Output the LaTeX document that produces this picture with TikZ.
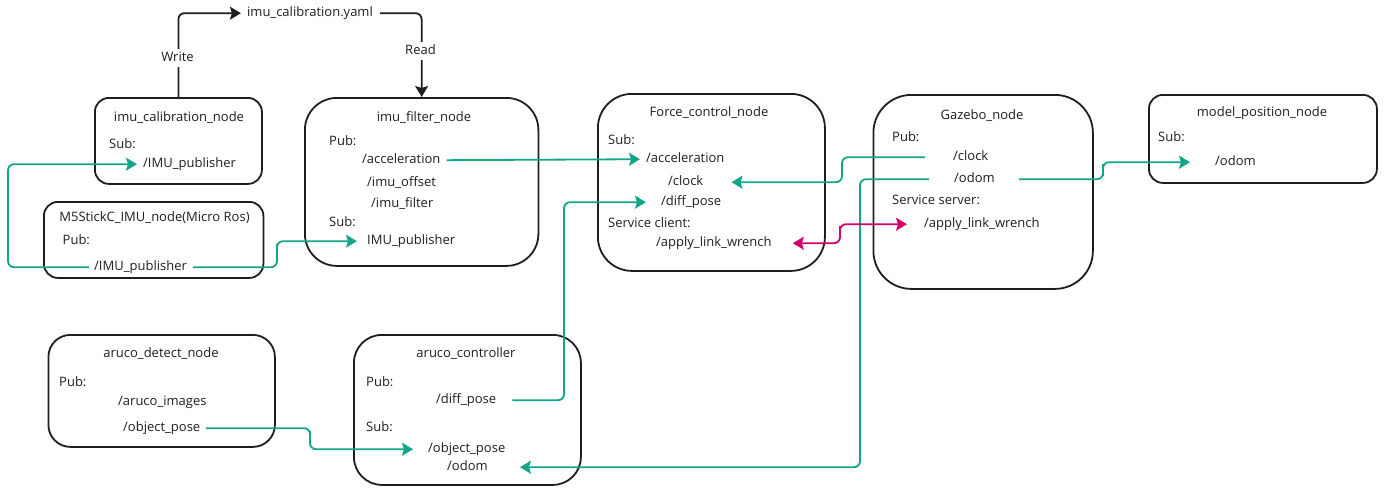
\documentclass[tikz,border=0pt]{standalone}
\usepackage{fontspec}
\setmainfont{Open Sans}
\usetikzlibrary{arrows.meta}
\definecolor{tealc}{RGB}{18,166,136}
\definecolor{magc}{RGB}{212,0,106}
\definecolor{boxc}{RGB}{30,30,30}
\begin{document}
\begin{tikzpicture}[x=1pt,y=-1pt,
  box/.style={draw=boxc, line width=1.8pt, anchor=north west, inner sep=0pt},
  txt/.style={font=\fontsize{13}{15}\selectfont, text=boxc, inner sep=0pt, text height=9.5pt, text depth=3pt, yshift=-1.2pt},
  lt/.style={txt, anchor=west},
  ct/.style={txt, anchor=center},
  tipa/.tip={Stealth[length=11pt,width=13pt,inset=2pt]},
  conn/.style={line width=1.8pt, rounded corners=6pt, -tipa},
  tconn/.style={conn, draw=tealc},
  kconn/.style={conn, draw=boxc},
  mconn/.style={line width=1.8pt, rounded corners=6pt, tipa-tipa, draw=magc},
  lbl/.style={txt, fill=white, inner sep=3pt}
]
\useasboundingbox (0,0) rectangle (1384,491);

% boxes
\node[box, rounded corners=14pt, minimum width=167pt, minimum height=86pt] (calib) at (94,97) {};
\node[box, rounded corners=14pt, minimum width=219.5pt, minimum height=76pt] (m5) at (43,201) {};
\node[box, rounded corners=32pt, minimum width=233.5pt, minimum height=168pt] (filter) at (304,97) {};
\node[box, rounded corners=34pt, minimum width=227pt, minimum height=177pt] (force) at (597,93) {};
\node[box, rounded corners=38pt, minimum width=219.5pt, minimum height=194pt] (gazebo) at (872.5,94) {};
\node[box, rounded corners=14pt, minimum width=228pt, minimum height=88pt] (model) at (1148,94) {};
\node[box, rounded corners=22pt, minimum width=226.5pt, minimum height=112pt] (adet) at (47.5,334) {};
\node[box, rounded corners=28pt, minimum width=227pt, minimum height=150pt] (actrl) at (353,334) {};

% yaml file
\node[ct] (yaml) at (310,12) {imu\_calibration.yaml};

% titles
\node[ct] (calibt) at (179,117) {imu\_calibration\_node};
\node[ct] (m5t) at (154.5,217) {M5StickC\_IMU\_node(Micro Ros)};
\node[ct] (filtert) at (424,117) {imu\_filter\_node};
\node[ct] (forcet) at (709,112) {Force\_control\_node};
\node[ct] (gazebot) at (982,115) {Gazebo\_node};
\node[ct] (modelt) at (1262,112) {model\_position\_node};
\node[ct] (adett) at (161,353) {aruco\_detect\_node};
\node[ct] (actrlt) at (466,353) {aruco\_controller};

% calib
\node[lt] (calsub) at (109,144) {Sub:};
\node[lt] (calimu) at (143,163) {/IMU\_publisher};
% m5
\node[lt] (m5publ) at (62.5,240) {Pub:};
\node[lt] (m5imu) at (94,266) {/IMU\_publisher};
% filter
\node[lt] (fpub) at (329,141) {Pub:};
\node[lt] (facc) at (362,159) {/acceleration};
\node[lt] (foff) at (367,182) {/imu\_offset};
\node[lt] (ffil) at (371,203) {/imu\_filter};
\node[lt] (fsub) at (329,222) {Sub:};
\node[lt] (fimu) at (367,240) {IMU\_publisher};
% force
\node[lt] (csub) at (608,140) {Sub:};
\node[lt] (cacc) at (646,158) {/acceleration};
\node[lt] (cclock) at (668,181) {/clock};
\node[lt] (cdiff) at (661,201) {/diff\_pose};
\node[lt] (ccli) at (608,223) {Service client:};
\node[lt] (cwr) at (656,242) {/apply\_link\_wrench};
% gazebo
\node[lt] (gpub) at (892,137) {Pub:};
\node[lt] (gclock) at (953,156) {/clock};
\node[lt] (godom) at (954,178) {/odom};
\node[lt] (gsrv) at (892,200) {Service server:};
\node[lt] (gwr) at (924,223) {/apply\_link\_wrench};
% model
\node[lt] (msub) at (1158,137) {Sub:};
\node[lt] (modom) at (1215,161) {/odom};
% aruco detect
\node[lt] (dpub) at (59,382) {Pub:};
\node[lt] (dimg) at (118,401) {/aruco\_images};
\node[lt] (dobj) at (123,427) {/object\_pose};
% aruco controller
\node[lt] (apub) at (366,382) {Pub:};
\node[lt] (adiff) at (436,399) {/diff\_pose};
\node[lt] (asub) at (366,427) {Sub:};
\node[lt] (aobj) at (428,448) {/object\_pose};
\node[lt] (aodom) at (447,466) {/odom};

% black file connectors
\draw[kconn, shorten >=6pt] (calib.north) |- (yaml.west);
\draw[kconn, shorten <=7pt] (yaml.east) -| (filter.north);
\node[lbl] (write) at (177.5,57) {Write};
\node[lbl] (read) at (420.5,50) {Read};

% teal connectors
\draw[tconn, shorten <=5pt, shorten >=6pt] (m5imu.west) -| (8,200) |- (calimu.west);
\draw[tconn, shorten <=6pt, shorten >=10pt] (m5imu.east) -| (277,250) |- (fimu.west);
\draw[tconn, shorten <=6pt, shorten >=6pt] (facc.east) -- (cacc.west);
\draw[tconn, shorten <=28pt, shorten >=28pt] (gclock.west) -| (842,170) |- (cclock.east);
\draw[tconn, shorten <=25pt, shorten >=32pt] (godom.west) -| (860,300) |- (aodom.east);
\draw[tconn, shorten <=24pt, shorten >=25pt] (godom.east) -| (1103,170) |- (modom.west);
\draw[tconn, shorten <=16pt, shorten >=15pt] (adiff.east) -| (564,300) |- (cdiff.west);
\draw[tconn, shorten <=5.5pt, shorten >=15pt] (dobj.east) -| (310,437) |- (aobj.west);

% magenta service connector
\draw[mconn, shorten <=21pt, shorten >=17pt] (cwr.east) -| (840,232) |- (gwr.west);
\end{tikzpicture}
\end{document}
